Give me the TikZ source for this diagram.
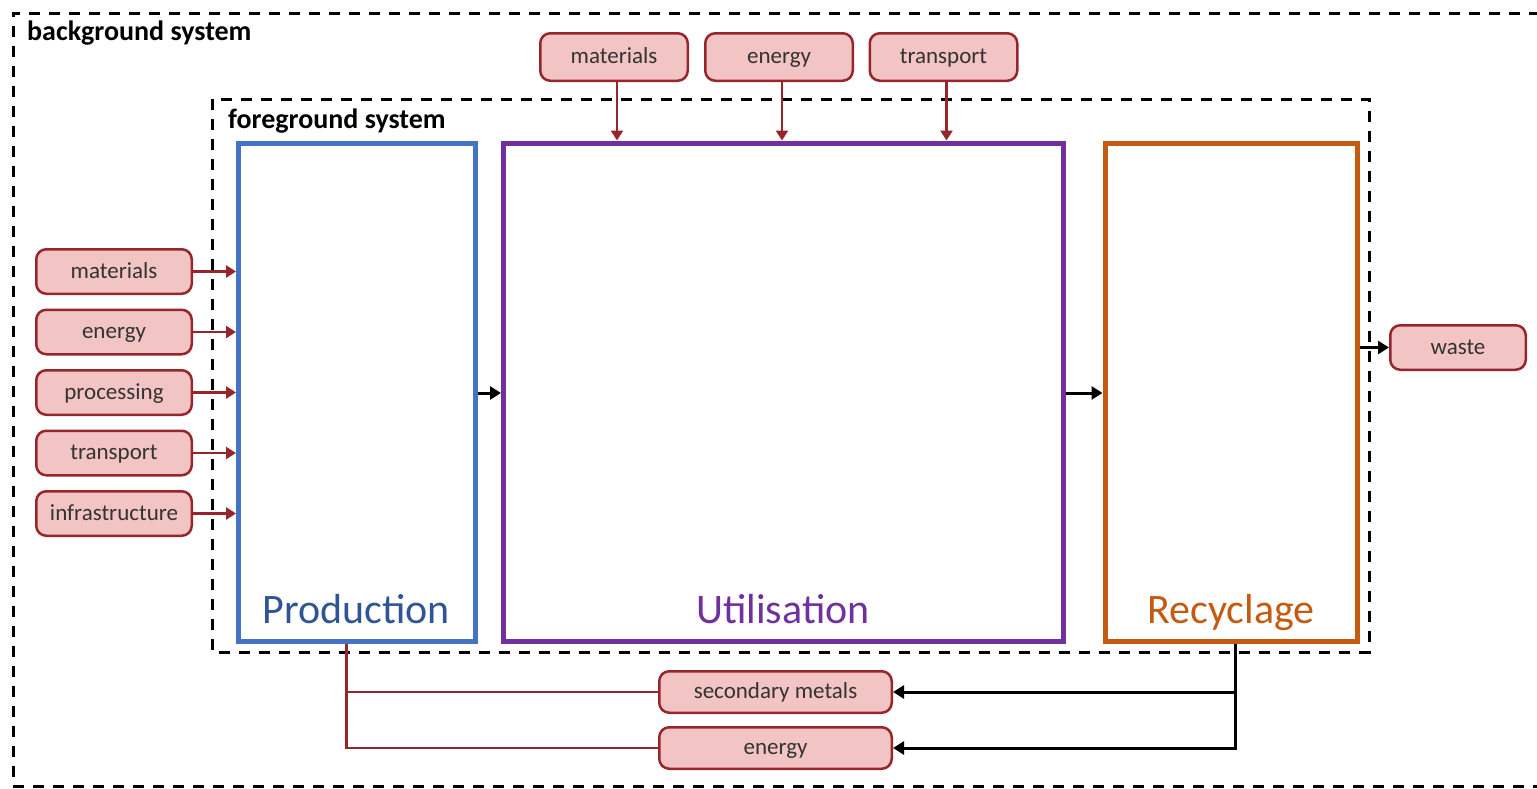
\documentclass[tikz,border=0pt]{standalone}
\usepackage{fontspec}
\setmainfont{Carlito}
\usetikzlibrary{arrows.meta}
\definecolor{flowred}{RGB}{150,38,44}
\definecolor{flowpink}{RGB}{242,196,196}
\definecolor{prodblue}{RGB}{68,114,196}
\definecolor{prodtext}{RGB}{47,85,151}
\definecolor{utilpurple}{RGB}{112,48,160}
\definecolor{recorange}{RGB}{197,90,17}
\tikzset{
  flow/.style={rounded corners=10pt, draw=flowred, fill=flowpink, line width=2.5pt,
    inner sep=0pt, text=black!80, text height=18pt, text depth=5pt,
    font=\fontsize{23}{26}\selectfont},
  sideflow/.style={flow, minimum width=155.5pt, minimum height=44.5pt},
  topflow/.style={flow, minimum width=147.5pt, minimum height=47.5pt},
  botflow/.style={flow, minimum width=232.5pt, minimum height=41.5pt},
  redarrow/.style={draw=flowred, line width=2.8pt, -{Triangle[length=10pt,width=12pt]}},
  redline/.style={draw=flowred, line width=2.8pt},
  blackarrow/.style={line width=3pt, -{Triangle[length=11pt,width=13pt]}},
  sysbox/.style={line width=3pt, dash pattern=on 11pt off 9pt},
  syslabel/.style={anchor=base west, inner sep=0pt, font=\bfseries\fontsize{28}{32}\selectfont},
  stage/.style={line width=5pt, inner sep=0pt},
  stagelabel/.style={anchor=base, inner sep=0pt, font=\fontsize{42}{48}\selectfont}
}

\begin{document}
\begin{tikzpicture}[x=1pt,y=-1pt]
\useasboundingbox (0,0) rectangle (1537,788);
% system boundaries
\draw[sysbox] (1560,13) -- (13,13) -- (13,786) -- (1560,786);
\node[syslabel] (bglabel) at (27,40) {background system};
\draw[sysbox] (212,99) rectangle (1369,652);
\node[syslabel] (fglabel) at (228,128) {foreground system};

% life cycle stages
\node[stage, draw=prodblue, minimum width=236.5pt, minimum height=498pt] (prod) at (356.75,392) {};
\node[stage, draw=utilpurple, minimum width=560pt, minimum height=498pt] (util) at (783.5,392) {};
\node[stage, draw=recorange, minimum width=252.5pt, minimum height=498pt] (rec) at (1231.25,392) {};
\node[stagelabel, text=prodtext] (prodlabel) at (356,623) {Production};
\node[stagelabel, text=utilpurple] (utillabel) at (783,623) {Utilisation};
\node[stagelabel, text=recorange] (reclabel) at (1231,623) {Recyclage};

% inputs to production
\node[sideflow] (pmat) at (114,271.5) {materials};
\node[sideflow] (peng) at (114,332) {energy};
\node[sideflow] (pproc) at (114,392.5) {processing};
\node[sideflow] (ptrans) at (114,453) {transport};
\node[sideflow] (pinfra) at (114,513.5) {infrastructure};
\foreach \n in {pmat,peng,pproc,ptrans,pinfra}
  \draw[redarrow] (\n.east) -- (\n.east -| prod.west);

% inputs to utilisation
\node[topflow] (umat) at (614,57) {materials};
\node[topflow] (ueng) at (779,57) {energy};
\node[topflow] (utrans) at (943.5,57) {transport};
\foreach \n in {umat,ueng,utrans}
  \draw[redarrow] ([xshift=3pt]\n.south) -- ([xshift=3pt]\n.south |- util.north);

% flows between stages
\draw[blackarrow] (prod.east |- 0,393) -- (util.west |- 0,393);
\draw[blackarrow] (util.east |- 0,393) -- (rec.west |- 0,393);

% outputs of recyclage
\node[flow, minimum width=135.5pt, minimum height=44.5pt] (waste) at (1458,347.5) {waste};
\draw[blackarrow] (rec.east |- waste) -- (waste.west);
\node[botflow] (secmet) at (775.5,692) {secondary metals};
\node[botflow] (seceng) at (775.5,748) {energy};
\draw[blackarrow] ([xshift=4pt]rec.south) |- (secmet.east);
\draw[blackarrow] ([xshift=4pt]rec.south) |- (seceng.east);
\draw[redline] ([xshift=-10pt]prod.south) |- (secmet.west);
\draw[redline] ([xshift=-10pt]prod.south) |- (seceng.west);
\end{tikzpicture}
\end{document}
